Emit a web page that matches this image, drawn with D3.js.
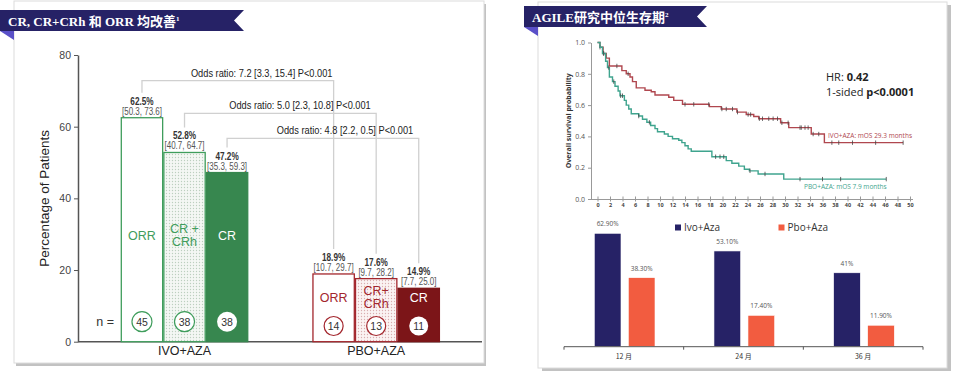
<!DOCTYPE html>
<html>
<head>
<meta charset="utf-8">
<script src="https://cdn.jsdelivr.net/npm/d3@7"></script>
<style>
  html, body { margin: 0; padding: 0; background: #fff; }
  svg { display: block; }
</style>
</head>
<body>
<div id="chart"></div>
<script>
// ---------------------------------------------------------------------------
// Datos – panel izquierdo (tasas de respuesta)
// ---------------------------------------------------------------------------
const groups = ['IVO+AZA', 'PBO+AZA'];
const measures = ['ORR', 'CR+CRh', 'CR'];
const ivoRates = [62.5, 52.8, 47.2];
const ivoCI = ['[50.3, 73.6]', '[40.7, 64.7]', '[35.3, 59.3]'];
const ivoN = [45, 38, 38];
const pboRates = [18.9, 17.6, 14.9];
const pboCI = ['[10.7, 29.7]', '[9.7, 28.2]', '[7.7, 25.0]'];
const pboN = [14, 13, 11];
const oddsLabels = [
  'Odds ratio: 7.2 [3.3, 15.4] P<0.001',
  'Odds ratio: 5.0 [2.3, 10.8] P<0.001',
  'Odds ratio: 4.8 [2.2, 0.5] P<0.001'
];
const yTicksLeft = [0, 20, 40, 60, 80];

// ---------------------------------------------------------------------------
// Datos – curvas Kaplan-Meier [mes, probabilidad]
// ---------------------------------------------------------------------------
const ivoKM = [[0, 1], [0.4, 0.97], [0.9, 0.93], [1.4, 0.9], [1.9, 0.85], [3.9, 0.82], [4.6, 0.8],
  [5.2, 0.78], [5.6, 0.75], [6.2, 0.71], [7.6, 0.695], [8.6, 0.685], [9.2, 0.665], [11.4, 0.65],
  [12.2, 0.63], [13.6, 0.605], [17.9, 0.59], [19.8, 0.575], [22.3, 0.555], [23.8, 0.54],
  [25, 0.527], [25.8, 0.513], [29.3, 0.487], [30.6, 0.456], [34.2, 0.415], [36.3, 0.36], [48.9, 0.36]];
const ivoCensor = [0.4, 0.95, 3.1, 4.9, 14, 15.4, 17.8, 19.9, 20.6, 21.6, 22.4, 24.1, 24.5, 25.9,
  26.4, 27.4, 28.1, 28.8, 29.5, 30.5, 32.4, 32.6, 33.2, 33.7, 34.5, 35.4, 37.5, 38.6, 40.8, 44.5, 48.9];
const pboKM = [[0, 1], [0.4, 0.97], [0.8, 0.93], [1.3, 0.88], [1.6, 0.84], [1.9, 0.78], [2.4, 0.75],
  [2.8, 0.72], [3.3, 0.69], [3.6, 0.66], [4.3, 0.63], [4.6, 0.6], [5, 0.575], [5.4, 0.545],
  [6.6, 0.53], [7.2, 0.51], [7.9, 0.49], [8.5, 0.47], [9.2, 0.45], [9.6, 0.43], [10.7, 0.415],
  [11.3, 0.4], [12, 0.385], [13, 0.375], [13.5, 0.36], [14, 0.34], [14.5, 0.32], [15, 0.305],
  [18.3, 0.27], [20.6, 0.245], [21.5, 0.228], [22.6, 0.21], [23.5, 0.19], [24.3, 0.18],
  [25.7, 0.16], [29.8, 0.127], [46.2, 0.127]];
const pboCensor = [1, 1.8, 2.6, 3.7, 4, 6.6, 8.3, 18.9, 19.6, 20.2, 24.4, 26.8, 32.4, 36, 38.9, 46.2];
const kmXTicks = d3.range(0, 51, 2);
const kmYTicks = [0, 0.2, 0.4, 0.6, 0.8, 1.0];

// ---------------------------------------------------------------------------
// Datos – supervivencia a 12/24/36 meses
// ---------------------------------------------------------------------------
const landmarks = ['12 月', '24 月', '36 月'];
const arms = ['Ivo+Aza', 'Pbo+Aza'];
const ivoSurv = [62.9, 53.1, 41];
const pboSurv = [38.3, 17.4, 11.9];
const survLabels = [['62.90%', '38.30%'], ['53.10%', '17.40%'], ['41%', '11.90%']];

// ---------------------------------------------------------------------------
const W = 956, H = 376;
const GREEN = '#3f9d5c', GREEN_DARK = '#37874f';
const RED = '#a3262d', RED_DARK = '#7c1518';
const NAVY = '#262266', ORANGE = '#f25c40';
const sans = "'Liberation Sans', Arial, sans-serif";
const kmFont = "'Open Sans', 'Noto Sans', sans-serif";

const svg = d3.select('#chart').append('svg')
  .attr('width', W).attr('height', H);

// estrecha un texto (la fuente original es más condensada)
function squeeze(sel, k) {
  sel.each(function() {
    const len = this.getComputedTextLength();
    d3.select(this).attr('textLength', len * k).attr('lengthAdjust', 'spacingAndGlyphs');
  });
}

const defs = svg.append('defs');
function dotPattern(id, bg, dot) {
  const p = defs.append('pattern').attr('id', id)
    .attr('width', 3).attr('height', 3).attr('patternUnits', 'userSpaceOnUse');
  p.append('rect').attr('width', 3).attr('height', 3).attr('fill', bg);
  p.append('circle').attr('cx', 1.5).attr('cy', 1.5).attr('r', 0.65).attr('fill', dot);
}
dotPattern('dotG', '#f4f7f4', '#bccfbf');
dotPattern('dotR', '#fbf3f3', '#d9aeb0');

// Tarjetas
function card(x, y, w, h, dx, dy) {
  svg.append('rect').attr('x', x + dx).attr('y', y + dy).attr('width', w).attr('height', h)
    .attr('fill', '#c2c2c2');
  svg.append('rect').attr('x', x).attr('y', y).attr('width', w).attr('height', h)
    .attr('fill', '#fff').attr('stroke', '#dcdcdc').attr('stroke-width', 1);
}
card(14, 1, 470, 362, 2, 3);
card(538, 2, 409, 366, 4, 3);

// Cintas de título
function banner(x, y, w, h, text, sup) {
  svg.append('path')
    .attr('d', `M${x},${y + h} L${x + 14},${y + h} L${x + 14},${y + h + 9} Z`)
    .attr('fill', '#5a50c8');
  svg.append('path')
    .attr('d', `M${x},${y} L${x + w},${y} L${x + w - 10},${y + h / 2} L${x + w},${y + h} L${x},${y + h} Z`)
    .attr('fill', NAVY);
  const t = svg.append('text').attr('x', x + 8).attr('y', y + h / 2 + 5)
    .attr('fill', '#fff').attr('font-size', 13).attr('font-weight', 'bold')
    .attr('font-family', "'Liberation Serif', 'Noto Sans CJK SC', serif")
    .text(text);
  t.append('tspan').attr('font-size', 7).attr('dy', -5).text(sup);
}
banner(0, 10, 244, 21, 'CR, CR+CRh 和 ORR 均改善', '1');
banner(524, 6, 183, 21, 'AGILE研究中位生存期', '2');

// =============================================================================
// PANEL IZQUIERDO
// =============================================================================
const yL = d3.scaleLinear().domain([0, 80]).range([341.7, 55]);
const xG = d3.scaleBand().domain(groups).range([120.7, 440]).paddingInner(0.334).paddingOuter(0);
const xM = d3.scaleBand().domain(measures).range([0, xG.bandwidth()]);

const left = svg.append('g').attr('font-family', sans);

left.append('g')
  .attr('transform', 'translate(78,0)')
  .call(d3.axisLeft(yL).tickValues(yTicksLeft).tickSize(4).tickSizeOuter(0))
  .call(g => g.select('.domain').attr('stroke', '#555').attr('stroke-width', 1.5))
  .call(g => g.selectAll('.tick line').attr('stroke', '#555'))
  .call(g => g.selectAll('.tick text').attr('font-size', 10.5).attr('fill', '#444')
    .attr('font-family', sans));

left.append('text')
  .attr('transform', `translate(49,${yL(40)}) rotate(-90)`)
  .attr('text-anchor', 'middle').attr('font-size', 13.5).attr('fill', '#222')
  .text('Percentage of Patients');

left.append('line').attr('x1', 78).attr('x2', 482)
  .attr('y1', yL(0)).attr('y2', yL(0)).attr('stroke', '#555').attr('stroke-width', 1.5);

const groupData = [
  { g: groups[0], rates: ivoRates, ci: ivoCI, n: ivoN, col: GREEN, dark: GREEN_DARK, pat: 'url(#dotG)',
    labelY: 235, circleY: 321.7, r: 10, inner: [['ORR'], ['CR +', 'CRh'], ['CR']] },
  { g: groups[1], rates: pboRates, ci: pboCI, n: pboN, col: RED, dark: RED_DARK, pat: 'url(#dotR)',
    labelY: 297, circleY: 326, r: 9.5, inner: [['ORR'], ['CR+', 'CRh'], ['CR']] }
];
const cx = (g, i) => xG(g) + xM(measures[i]) + xM.bandwidth() / 2;

// Llaves de odds ratio
const bracketY = [80.7, 113.3, 138.3];
measures.forEach((m, i) => {
  const x1 = cx(groups[0], i), x2 = cx(groups[1], i);
  const y1 = yL(ivoRates[i]) - 25, y2 = yL(pboRates[i]) - 25;
  left.append('path')
    .attr('d', `M${x1},${y1} V${bracketY[i]} H${x2} V${y2}`)
    .attr('fill', 'none').attr('stroke', '#d0d0d0').attr('stroke-width', 1.3);
  left.append('text')
    .attr('x', [261.7, 300, 345][i]).attr('y', bracketY[i] - 4)
    .attr('text-anchor', 'middle').attr('font-size', 10.5).attr('fill', '#222')
    .text(oddsLabels[i])
    .call(squeeze, 0.88);
});

groupData.forEach(gd => {
  measures.forEach((m, i) => {
    const x = xG(gd.g) + xM(m), w = xM.bandwidth();
    const top = yL(gd.rates[i]);
    left.append('rect')
      .attr('x', x + 0.6).attr('y', top).attr('width', w - 1.2).attr('height', yL(0) - top)
      .attr('fill', i === 0 ? '#fff' : i === 1 ? gd.pat : gd.dark)
      .attr('stroke', i === 2 ? gd.dark : gd.col).attr('stroke-width', 1.3);

    const c = x + w / 2;
    left.append('text').attr('x', c).attr('y', top - 13)
      .attr('text-anchor', 'middle').attr('font-size', 10).attr('font-weight', 'bold')
      .attr('fill', '#333').text(gd.rates[i] + '%')
      .call(squeeze, 0.82);
    left.append('text').attr('x', c).attr('y', top - 3)
      .attr('text-anchor', 'middle').attr('font-size', 10).attr('fill', '#555')
      .text(gd.ci[i])
      .call(squeeze, 0.8);

    const lines = gd.inner[i];
    lines.forEach((ln, k) => {
      left.append('text').attr('x', c)
        .attr('y', gd.labelY + 4.5 + (k - (lines.length - 1) / 2) * 13.5)
        .attr('text-anchor', 'middle').attr('font-size', 12.5)
        .attr('fill', i === 2 ? '#fff' : gd.col).text(ln);
    });

    left.append('circle').attr('cx', c).attr('cy', gd.circleY).attr('r', gd.r)
      .attr('fill', '#fff').attr('stroke', i === 2 ? 'none' : gd.col).attr('stroke-width', 1.2);
    left.append('text').attr('x', c).attr('y', gd.circleY + 4)
      .attr('text-anchor', 'middle').attr('font-size', 10.5).attr('fill', '#333')
      .text(gd.n[i]);
  });
  left.append('text').attr('x', xG(gd.g) + xG.bandwidth() / 2).attr('y', 355)
    .attr('text-anchor', 'middle').attr('font-size', 12.5).attr('fill', '#222').text(gd.g);
});

left.append('text').attr('x', 114).attr('y', 326).attr('text-anchor', 'end')
  .attr('font-size', 12.5).attr('fill', '#333').text('n =');

// =============================================================================
// PANEL DERECHO – Kaplan-Meier
// =============================================================================
const xK = d3.scaleLinear().domain([0, 50]).range([597.5, 910]);
const yK = d3.scaleLinear().domain([0, 1]).range([199, 42.5]);
const km = svg.append('g').attr('font-family', kmFont);

km.append('g').attr('transform', `translate(591,0)`)
  .call(d3.axisLeft(yK).tickValues(kmYTicks).tickFormat(d3.format('.1f')).tickSize(3).tickSizeOuter(0))
  .call(g => g.select('.domain').attr('stroke', '#999'))
  .call(g => g.selectAll('.tick line').attr('stroke', '#999'))
  .call(g => g.selectAll('.tick text').attr('font-size', 7).attr('fill', '#555').attr('font-family', kmFont));

km.append('g').attr('transform', `translate(0,199)`)
  .call(d3.axisBottom(xK).tickValues(kmXTicks).tickSize(2.5).tickSizeOuter(0))
  .call(g => g.select('.domain').attr('stroke', '#999').attr('d', 'M591,0.5H913'))
  .call(g => g.selectAll('.tick line').attr('stroke', '#999').attr('y1', -2.5))
  .call(g => g.selectAll('.tick text').attr('font-size', 5.5).attr('font-weight', 'bold')
    .attr('fill', '#444').attr('font-family', kmFont).attr('dy', '0.5em'));

km.append('text')
  .attr('transform', `translate(571,${yK(0.5)}) rotate(-90)`)
  .attr('text-anchor', 'middle').attr('font-size', 7).attr('font-weight', 'bold').attr('fill', '#333')
  .text('Overall survival probability');

const stepLine = d3.line().x(d => xK(d[0])).y(d => yK(d[1])).curve(d3.curveStepAfter);
function survAt(curve, t) {
  let p = curve[0][1];
  curve.forEach(d => { if (d[0] <= t) p = d[1]; });
  return p;
}
[[ivoKM, ivoCensor, '#b0474f'], [pboKM, pboCensor, '#3fa48e']].forEach(([curve, cens, col]) => {
  km.append('path').attr('d', stepLine(curve)).attr('fill', 'none')
    .attr('stroke', col).attr('stroke-width', 1.4);
  km.selectAll(null).data(cens).join('line')
    .attr('x1', t => xK(t)).attr('x2', t => xK(t))
    .attr('y1', t => yK(survAt(curve, t)) - 2.2).attr('y2', t => yK(survAt(curve, t)) + 2.2)
    .attr('stroke', '#444').attr('stroke-width', 0.8);
});

km.append('text').attr('x', 828).attr('y', 137.5).attr('font-size', 6.5).attr('fill', '#b0474f')
  .text('IVO+AZA: mOS 29.3 months');
km.append('text').attr('x', 804).attr('y', 188.5).attr('font-size', 6.5).attr('fill', '#3fa48e')
  .text('PBO+AZA: mOS 7.9 months');

const hr = km.append('text').attr('x', 826).attr('y', 81).attr('font-size', 11).attr('fill', '#222');
hr.append('tspan').text('HR: ');
hr.append('tspan').attr('font-weight', 'bold').text('0.42');
const pv = km.append('text').attr('x', 826).attr('y', 96).attr('font-size', 11).attr('fill', '#222');
pv.append('tspan').text('1-sided ');
pv.append('tspan').attr('font-weight', 'bold').text('p<0.0001');

// =============================================================================
// PANEL DERECHO – barras de supervivencia
// =============================================================================
const x0 = d3.scaleBand().domain(landmarks).range([564, 923]);
const x1 = d3.scaleBand().domain(arms).range([30.3, 91]).paddingInner(0.215);
const yB = d3.scaleLinear().domain([0, 100]).range([346.7, 166.4]);
const bars = svg.append('g').attr('font-family', kmFont);

landmarks.forEach((c, i) => {
  [ivoSurv[i], pboSurv[i]].forEach((v, j) => {
    const x = x0(c) + x1(arms[j]);
    bars.append('rect').attr('x', x).attr('y', yB(v))
      .attr('width', x1.bandwidth()).attr('height', yB(0) - yB(v))
      .attr('fill', j === 0 ? NAVY : ORANGE).attr('stroke', '#fff').attr('stroke-width', 0.6);
    bars.append('text').attr('x', x + x1.bandwidth() / 2).attr('y', yB(v) - 7)
      .attr('text-anchor', 'middle').attr('font-size', 6.5).attr('fill', '#555')
      .text(survLabels[i][j]);
  });
  bars.append('text').attr('x', x0(c) + x0.bandwidth() / 2).attr('y', 358.5)
    .attr('text-anchor', 'middle').attr('font-size', 7).attr('fill', '#333')
    .attr('font-family', "'Noto Sans CJK SC', sans-serif").text(c);
});

bars.append('line').attr('x1', 564).attr('x2', 923).attr('y1', yB(0)).attr('y2', yB(0))
  .attr('stroke', '#555').attr('stroke-width', 1);
bars.selectAll(null).data(landmarks.map(c => x0(c)).concat([x0.range()[1]])).join('line')
  .attr('x1', d => d).attr('x2', d => d).attr('y1', yB(0)).attr('y2', yB(0) + 3)
  .attr('stroke', '#555');

arms.forEach((a, j) => {
  const lx = [675, 778.5][j];
  bars.append('rect').attr('x', lx).attr('y', 224.5).attr('width', 6).attr('height', 6)
    .attr('fill', j === 0 ? NAVY : ORANGE);
  bars.append('text').attr('x', lx + 9).attr('y', 231).attr('font-size', 10)
    .attr('fill', '#333').text(a);
});
</script>
</body>
</html>
